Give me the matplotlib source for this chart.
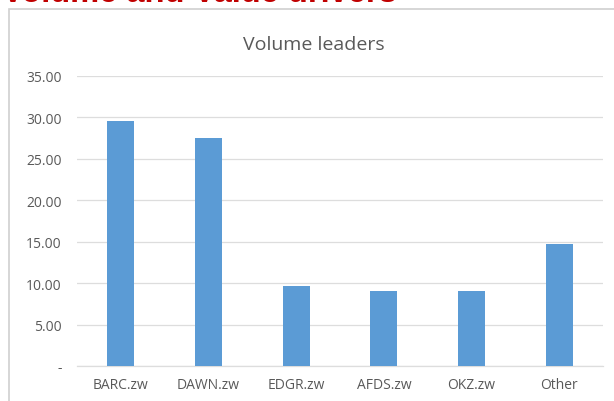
import matplotlib
matplotlib.use("Agg")
import matplotlib.pyplot as plt
from matplotlib.patches import Rectangle

categories = ["BARC.zw", "DAWN.zw", "EDGR.zw", "AFDS.zw", "OKZ.zw", "Other"]
volumes = [29.6, 27.5, 9.7, 9.1, 9.1, 14.7]
yticks = [0, 5, 10, 15, 20, 25, 30, 35]
ytick_labels = ["-", "5.00", "10.00", "15.00", "20.00", "25.00", "30.00", "35.00"]

plt.rcParams['font.family'] = ['Open Sans', 'DejaVu Sans']

W, H = 614, 402
fig = plt.figure(figsize=(W / 100, H / 100), dpi=100)
fig.patch.set_facecolor("white")

# chart frame
fig.patches.append(Rectangle((9 / W, -0.05), 1.1, 1 - 10 / H + 0.05, transform=fig.transFigure,
                             facecolor="white", edgecolor="#D0D0D0", linewidth=1.2, zorder=-5))

# cut-off red heading
fig.text(2 / W, 1 - 1.5 / H, "Volume and Value drivers", color="#C00000", fontsize=23.5,
         fontweight="bold", family="Liberation Sans", ha="left", va="baseline")

ax = fig.add_axes([77 / W, 1 - 367 / H, 526 / W, 290 / H])
ax.set_zorder(2)
ax.set_facecolor("none")
x = range(len(categories))
ax.bar(x, volumes, width=0.31, color="#5B9BD5", zorder=3)
ax.set_xlim(-0.5, len(categories) - 0.5)
ax.set_ylim(0, 35)
ax.set_yticks(yticks)
ax.set_yticklabels(ytick_labels)
ax.set_xticks(list(x))
ax.set_xticklabels(categories)
ax.grid(axis="y", color="#DDDDDD", linewidth=0.9, zorder=0)
for s in ["top", "right", "left"]:
    ax.spines[s].set_visible(False)
ax.spines["bottom"].set_color("#DDDDDD")
ax.spines["bottom"].set_linewidth(0.9)
ax.tick_params(axis="both", length=0, colors="#595959", labelsize=10)
ax.tick_params(axis="y", pad=11)
ax.tick_params(axis="x", pad=8)

fig.text(314 / W, 1 - 45 / H, "Volume leaders", ha="center", va="center",
         fontsize=14, color="#595959")

fig.savefig("out.png", dpi=100)
